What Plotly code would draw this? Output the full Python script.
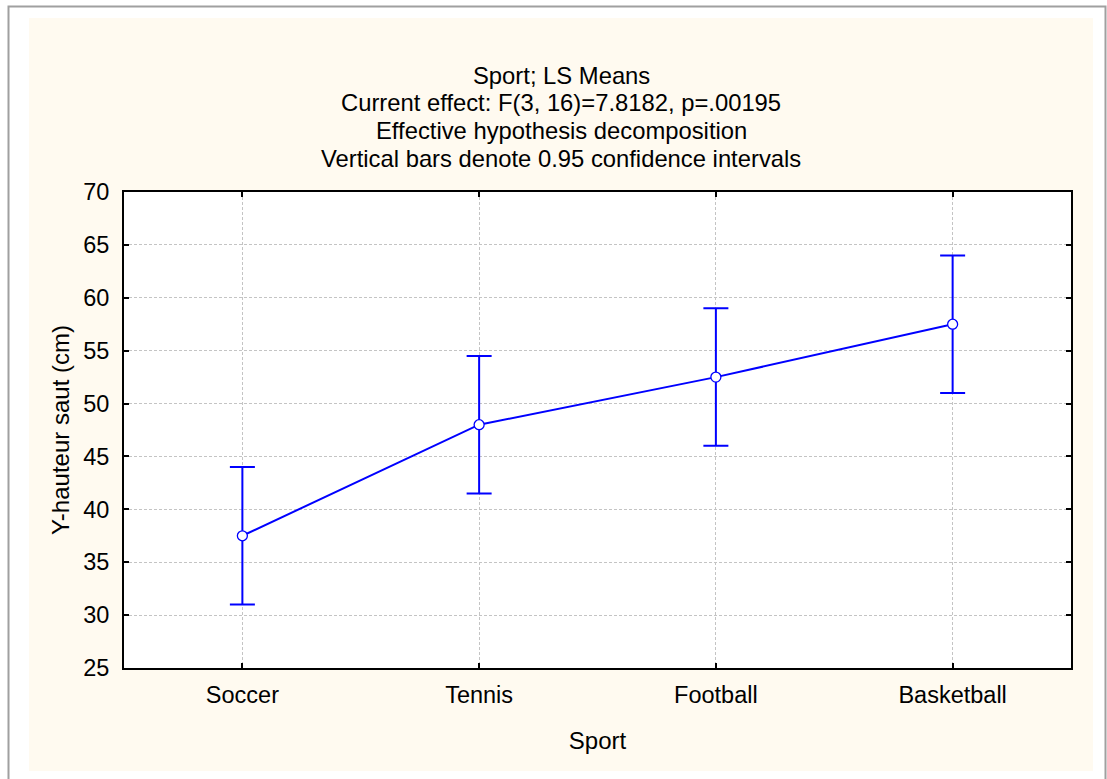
import plotly.graph_objects as go

# LS means with 0.95 confidence limits
sports = ["Soccer", "Tennis", "Football", "Basketball"]
means = [37.5, 48.0, 52.5, 57.5]
ci_low = [31.0, 41.5, 46.0, 51.0]
ci_high = [44.0, 54.5, 59.0, 64.0]

title_lines = [
    "Sport; LS Means",
    "Current effect: F(3, 16)=7.8182, p=.00195",
    "Effective hypothesis decomposition",
    "Vertical bars denote 0.95 confidence intervals",
]

W, H = 1107, 779
L, R, T, B = 124, 1071, 192, 668  # plot area in pixels
FONT = "Liberation Sans, Arial, sans-serif"
BLUE = "#0000ff"


def px(x):
    return (x - L) / (R - L)


def py(y):
    return (B - y) / (B - T)


fig = go.Figure()
fig.add_trace(go.Scatter(
    x=sports,
    y=means,
    mode="lines+markers",
    line=dict(color=BLUE, width=2),
    marker=dict(symbol="circle", size=10, color="white",
                line=dict(color=BLUE, width=1.3)),
    error_y=dict(
        type="data",
        symmetric=False,
        array=[h - m for h, m in zip(ci_high, means)],
        arrayminus=[m - l for m, l in zip(means, ci_low)],
        color=BLUE,
        thickness=2,
        width=12.5,
    ),
    showlegend=False,
))

shapes = [
    # outer frame
    dict(type="rect", xref="paper", yref="paper",
         x0=px(8.5), x1=px(1105.5), y0=py(800), y1=py(6.5),
         line=dict(color="#a0a0a0", width=2), fillcolor="white", layer="below"),
    # cream panel
    dict(type="rect", xref="paper", yref="paper",
         x0=px(29), x1=px(1093), y0=py(771), y1=py(18),
         line=dict(width=0), fillcolor="#FFFAF0", layer="below"),
    # plot area
    dict(type="rect", xref="paper", yref="paper",
         x0=0, x1=1, y0=0, y1=1,
         line=dict(width=0), fillcolor="white", layer="below"),
]

annotations = []
for i, txt in enumerate(title_lines):
    annotations.append(dict(
        text=txt, xref="paper", yref="paper",
        x=px(561), y=py(75 + i * 27.7),
        xanchor="center", yanchor="middle", showarrow=False,
        font=dict(family=FONT, size=23.8, color="black"),
    ))

axis_common = dict(
    showline=True, linecolor="black", linewidth=2, mirror="ticks",
    ticks="inside", ticklen=5, tickwidth=1.5, tickcolor="black",
    showgrid=True, gridcolor="#c4c4c4", gridwidth=1, griddash="3px,2px",
    zeroline=False,
    tickfont=dict(family=FONT, size=23.5, color="black"),
    title_font=dict(family=FONT, size=24, color="black"),
)

fig.update_xaxes(
    type="category", range=[-0.5, 3.5],
    title_text="Sport", title_standoff=25, ticklabelstandoff=5,
    **axis_common,
)
fig.update_yaxes(
    range=[25, 70], dtick=5,
    title_text="Y-hauteur saut (cm)", title_standoff=7, ticklabelstandoff=8,
    **axis_common,
)

fig.update_layout(
    width=W, height=H,
    margin=dict(l=L, r=W - R, t=T, b=H - B, pad=0),
    paper_bgcolor="white",
    plot_bgcolor="rgba(0,0,0,0)",
    shapes=shapes,
    annotations=annotations,
    font=dict(family=FONT, color="black"),
)

# drop the default page margin so the figure sits at the window corner
fig.write_html("out.html", config={"displayModeBar": False},
               post_script="document.body.style.margin='0';")
